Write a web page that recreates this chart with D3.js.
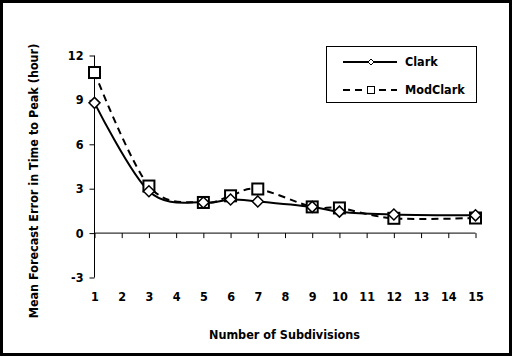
<!DOCTYPE html>
<html><head><meta charset="utf-8">
<script src="https://cdn.jsdelivr.net/npm/d3@7"></script>
<style>body{margin:0;background:#fff}svg{display:block}</style>
</head><body>
<script>
const xTicks = [1,2,3,4,5,6,7,8,9,10,11,12,13,14,15];
const yTicks = [-3,0,3,6,9,12];
const subdivisions = [1,3,5,6,7,9,10,12,15];
const clark = [8.8,2.83,2.07,2.27,2.14,1.77,1.45,1.26,1.2];
const modClark = [10.85,3.18,2.07,2.52,2.98,1.77,1.7,1.0,1.02];
const seriesNames = ["Clark","ModClark"];

const W=513,H=357;
const svg=d3.select("body").append("svg").attr("width",W).attr("height",H);
svg.append("rect").attr("x",1.5).attr("y",1.5).attr("width",W-4).attr("height",H-4)
  .attr("fill","#fff").attr("stroke","#000").attr("stroke-width",3);

const x=d3.scaleLinear().domain([1,15]).range([94.5,475.5]);
const y=d3.scaleLinear().domain([-3,12]).range([277.5,55.5]);
const font="'DejaVu Sans Condensed', 'DejaVu Sans', sans-serif";

const g=svg.append("g");
g.append("line").attr("x1",x(1)).attr("x2",x(1)).attr("y1",y(-3)).attr("y2",y(12)).attr("stroke","#000").attr("stroke-width",1);
const yAx=g.append("g").attr("transform",`translate(${x(1)},0)`)
  .call(d3.axisLeft(y).tickValues(yTicks).tickSize(5).tickPadding(6).tickFormat(d=>String(d)));
yAx.select(".domain").remove();
const xAx=g.append("g").attr("transform",`translate(0,${y(0)})`)
  .call(d3.axisBottom(x).tickValues(xTicks).tickSize(5).tickFormat(d=>String(d)).tickPadding(0));
xAx.select(".domain").attr("d",`M${x(1)},0H${x(15)}`);
xAx.selectAll(".tick text").attr("dy",null).attr("y",y(-3)-y(0)+24);
[yAx,xAx].forEach(a=>{
  a.selectAll("text").attr("font-family",font).attr("font-size",12.5).attr("font-weight","bold").attr("fill","#000");
  a.selectAll("line").attr("stroke","#000");
});

const line=d3.line().x(d=>x(d[0])).y(d=>y(d[1])).curve(d3.curveCardinal.tension(0));
const cData=subdivisions.map((s,i)=>[s,clark[i]]);
const mData=subdivisions.map((s,i)=>[s,modClark[i]]);
g.append("path").attr("d",line(mData)).attr("fill","none").attr("stroke","#000").attr("stroke-width",2).attr("stroke-dasharray","7,5");
g.append("path").attr("d",line(cData)).attr("fill","none").attr("stroke","#000").attr("stroke-width",2);

function square(sel,cx,cy,s){sel.append("rect").attr("x",cx-s/2).attr("y",cy-s/2).attr("width",s).attr("height",s).attr("fill","#fff").attr("stroke","#000").attr("stroke-width",2);}
function diamond(sel,cx,cy,r,sw){sel.append("path").attr("d",`M${cx},${cy-r}L${cx+r},${cy}L${cx},${cy+r}L${cx-r},${cy}Z`).attr("fill","#fff").attr("stroke","#000").attr("stroke-width",sw);}
mData.forEach(d=>square(g,x(d[0]),y(d[1]),11));
cData.forEach(d=>diamond(g,x(d[0]),y(d[1]),5.5,1.5));

const lg=svg.append("g");
lg.append("rect").attr("x",326.5).attr("y",46.5).attr("width",150).attr("height",56).attr("fill","#fff").attr("stroke","#000").attr("stroke-width",1);
lg.append("line").attr("x1",343).attr("x2",397).attr("y1",62).attr("y2",62).attr("stroke","#000").attr("stroke-width",2);
diamond(lg,371,62,3,1);
lg.append("line").attr("x1",343).attr("x2",397).attr("y1",90).attr("y2",90).attr("stroke","#000").attr("stroke-width",2).attr("stroke-dasharray","7,5");
lg.append("rect").attr("x",367.5).attr("y",86.5).attr("width",7).attr("height",7).attr("fill","#fff").attr("stroke","#000").attr("stroke-width",1);
lg.selectAll("text.l").data(seriesNames).join("text").attr("x",405).attr("y",(d,i)=>66+i*28)
  .text(d=>d).attr("font-family",font).attr("font-size",12.5).attr("font-weight","bold");

svg.append("text").attr("x",284.5).attr("y",339).attr("text-anchor","middle").text("Number of Subdivisions")
  .attr("font-family",font).attr("font-size",12.5).attr("font-weight","bold");
svg.append("text").attr("transform","translate(38,181) rotate(-90)").attr("text-anchor","middle")
  .text("Mean Forecast Error in Time to Peak (hour)").attr("font-family",font).attr("font-size",12.5).attr("font-weight","bold");
</script>
</body></html>
